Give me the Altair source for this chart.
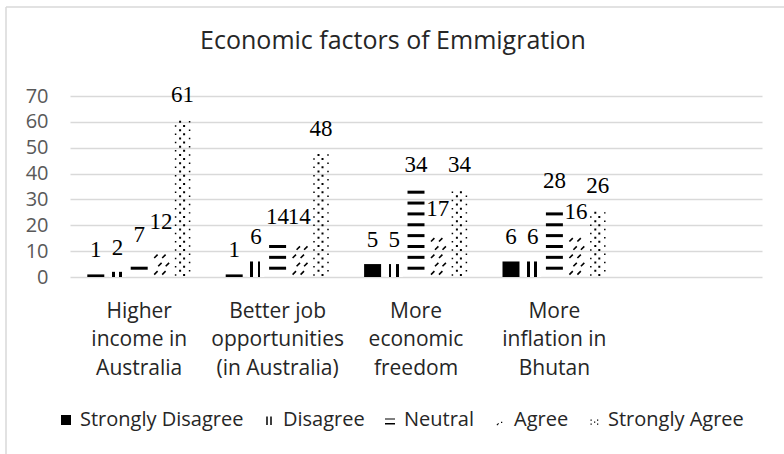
import json
import altair as alt
import pandas as pd

# ---------------- data ----------------
categories = [
    "Higher income in Australia",
    "Better job opportunities (in Australia)",
    "More economic freedom",
    "More inflation in Bhutan",
]
category_lines = [
    ["Higher", "income in", "Australia"],
    ["Better job", "opportunities", "(in Australia)"],
    ["More", "economic", "freedom"],
    ["More", "inflation in", "Bhutan"],
]
series = ["Strongly Disagree", "Disagree", "Neutral", "Agree", "Strongly Agree"]
strongly_disagree = [1, 1, 5, 6]
disagree = [2, 6, 5, 6]
neutral = [7, 14, 34, 28]
agree = [12, 14, 17, 16]
strongly_agree = [61, 48, 34, 26]
y_ticks = [0, 10, 20, 30, 40, 50, 60, 70]
title_text = "Economic factors of Emmigration"

rows = []
for s, vals in zip(series, [strongly_disagree, disagree, neutral, agree, strongly_agree]):
    for c, v in zip(categories, vals):
        rows.append({"category": c, "series": s, "value": v})
df = pd.DataFrame(rows)

# ---------------- pattern glyphs (unit symbol space) ----------------
CELL = 8.5  # px per symbol unit when size = 17^2


def sq(cx, cy, d, scale=CELL):
    l = (cx - d / 2) / scale
    t = (cy - d / 2) / scale
    w = d / scale
    return f"M{l:.3f},{t:.3f}h{w:.3f}v{w:.3f}h{-w:.3f}Z"


def dash(cx, cy, L=3.4, scale=CELL):
    return (f"M{(cx - L / 2) / scale:.3f},{(cy + L / 2) / scale:.3f}"
            f"L{(cx + L / 2) / scale:.3f},{(cy - L / 2) / scale:.3f}")


sa_row_a = sq(-7, 0, 1.5) + sq(1.5, 0, 2.0)
sa_row_b = sq(-2.5, 0, 2.0) + sq(7, 0, 1.5)
ag_row_a = dash(-5, 0) + dash(3, 0)
ag_row_b = dash(-1, 0) + dash(6.5, 0)

legend_paths = [
    "M-1,-1H1V1H-1Z",
    "M-0.55,-0.7H-0.25V1H-0.55Z M0.25,-0.7H0.55V1H0.25Z",
    "M-1,-0.3H1V-0.12H-1Z M-1,0.6H1V0.9H-1Z",
    "M-0.7,0.95L-0.35,0.6L-0.2,0.75L-0.55,1.1Z M0.2,0.35H0.45V0.6H0.2Z",
    "M-0.7,-0.1H-0.45V0.15H-0.7Z M-0.7,0.7H-0.45V0.95H-0.7Z M0.0,0.3H0.25V0.55H0.0Z M0.6,-0.1H0.85V0.15H0.6Z M0.6,0.7H0.85V0.95H0.6Z",
]

# ---------------- shared encodings ----------------
label_lookup = json.dumps(dict(zip(categories, category_lines)))
x_enc = alt.X(
    "category:N",
    scale=alt.Scale(domain=categories + [" "], paddingInner=0.25, paddingOuter=0.125),
    axis=alt.Axis(
        title=None,
        labelExpr=f"{label_lookup}[datum.label] || ''",
        labelAngle=0,
        labelFont="Open Sans",
        labelFontSize=21,
        labelColor="#262626",
        labelLineHeight=28.7,
        labelPadding=23,
        labelBaseline="top",
        labelOverlap=False,
        labelLimit=300,
        ticks=False,
        domain=False,
        grid=False,
    ),
)
xo_enc = alt.XOffset("series:N", scale=alt.Scale(domain=series, paddingInner=0.217, paddingOuter=0))
y_axis = alt.Axis(
    title=None,
    values=y_ticks,
    grid=True,
    gridColor="#d9d9d9",
    gridWidth=1.3,
    domain=False,
    ticks=False,
    labelFont="Open Sans",
    labelFontSize=20,
    labelColor="#595959",
    labelPadding=22,
)
y_scale = alt.Scale(domain=[0, 70], nice=False)


def y_of(field):
    return alt.Y(field, scale=y_scale, axis=y_axis)


base = alt.Chart(df)

# Strongly Disagree: solid black
sd_layer = base.transform_filter(alt.datum.series == "Strongly Disagree").mark_bar(
    color="black"
).encode(x=x_enc, xOffset=xo_enc, y=y_of("value:Q"))

# Disagree: vertical stripes via gradient
stripes = alt.LinearGradient(
    gradient="linear",
    x1=0, x2=1, y1=0, y2=0,
    stops=[
        alt.GradientStop(color="white", offset=0),
        alt.GradientStop(color="white", offset=0.18),
        alt.GradientStop(color="black", offset=0.18),
        alt.GradientStop(color="black", offset=0.33),
        alt.GradientStop(color="white", offset=0.33),
        alt.GradientStop(color="white", offset=0.6),
        alt.GradientStop(color="black", offset=0.6),
        alt.GradientStop(color="black", offset=0.75),
        alt.GradientStop(color="white", offset=0.75),
        alt.GradientStop(color="white", offset=1),
    ],
)
d_layer = base.transform_filter(alt.datum.series == "Disagree").mark_bar(
    fill=stripes
).encode(x=x_enc, xOffset=xo_enc, y=y_of("value:Q"))

# Neutral: horizontal dashes
n_layer = (
    base.transform_filter(alt.datum.series == "Neutral")
    .transform_calculate(s="sequence(3.4, datum.value - 0.5, 4.2)")
    .transform_flatten(["s"])
    .transform_calculate(lo="datum.s - 0.58", hi="datum.s + 0.58")
    .mark_bar(color="black")
    .encode(x=x_enc, xOffset=xo_enc, y=y_of("lo:Q"), y2="hi:Q")
)

# Agree: diagonal dashes
ag_base = (
    base.transform_filter(alt.datum.series == "Agree")
    .transform_calculate(s="sequence(1.6, datum.value - 0.8, 3.2)")
    .transform_flatten(["s"])
    .transform_calculate(par="round((datum.s - 1.6) / 3.2) % 2")
)
ag_a = ag_base.transform_filter("datum.par == 0").mark_point(
    shape=ag_row_a, size=289, filled=False, color="black", strokeWidth=1.6, opacity=1
).encode(x=x_enc, xOffset=xo_enc, y=y_of("s:Q"))
ag_b = ag_base.transform_filter("datum.par == 1").mark_point(
    shape=ag_row_b, size=289, filled=False, color="black", strokeWidth=1.6, opacity=1
).encode(x=x_enc, xOffset=xo_enc, y=y_of("s:Q"))

# Strongly Agree: dotted grid
sa_base = (
    base.transform_filter(alt.datum.series == "Strongly Agree")
    .transform_calculate(s="sequence(0.8, datum.value - 0.3, 1.6)")
    .transform_flatten(["s"])
    .transform_calculate(par="round((datum.s - 0.8) / 1.6) % 2")
)
sa_a = sa_base.transform_filter("datum.par == 0").mark_point(
    shape=sa_row_a, size=289, filled=True, color="black", opacity=1
).encode(x=x_enc, xOffset=xo_enc, y=y_of("s:Q"))
sa_b = sa_base.transform_filter("datum.par == 1").mark_point(
    shape=sa_row_b, size=289, filled=True, color="black", opacity=1
).encode(x=x_enc, xOffset=xo_enc, y=y_of("s:Q"))

# value labels
labels = base.mark_text(
    font="Liberation Serif", fontSize=23, dy=-24, baseline="middle", color="black"
).encode(x=x_enc, xOffset=xo_enc, y=y_of("value:Q"), text="value:Q")

# legend
legend_layer = base.transform_filter("false").mark_point(
    filled=True, color="black", opacity=1
).encode(
    shape=alt.Shape(
        "series:N",
        scale=alt.Scale(domain=series, range=legend_paths),
        legend=alt.Legend(
            title=None,
            orient="none",
            legendX=-14,
            legendY=314,
            direction="horizontal",
            columns=5,
            labelFont="Open Sans",
            labelFontSize=20,
            labelColor="#262626",
            labelLimit=300,
            symbolSize=100,
            symbolFillColor="black",
            symbolStrokeWidth=0,
            symbolOpacity=1,
            labelOffset=4,
            columnPadding=15,
        ),
    )
)

# chart-area frame (light border)
frame_src = alt.Chart(alt.Data(values=[{"k": 1}]))
frame_left = frame_src.mark_rule(color="#d9d9d9", strokeWidth=1.5).encode(
    x=alt.value(-64), y=alt.value(-89), y2=alt.value(370)
)
frame_top = frame_src.mark_rule(color="#d9d9d9", strokeWidth=1.5).encode(
    x=alt.value(-64), x2=alt.value(730), y=alt.value(-89)
)

chart = (
    alt.layer(
        frame_left, frame_top,
        sd_layer, d_layer, n_layer, ag_a, ag_b, sa_a, sa_b, labels, legend_layer,
    )
    .properties(
        width=692,
        height=181,
        autosize=alt.AutoSizeParams(type="none"),
        padding={"left": 70, "top": 96, "right": 22, "bottom": 177},
        title=alt.TitleParams(
            text=title_text,
            font="Open Sans",
            fontSize=25,
            fontWeight="normal",
            color="#262626",
            anchor="middle",
            frame="group",
            offset=0,
            dy=48,
            dx=-23,
        ),
    )
    .configure_view(strokeWidth=0)
)

chart.save("out.html", embed_options={"renderer": "svg", "actions": False})
